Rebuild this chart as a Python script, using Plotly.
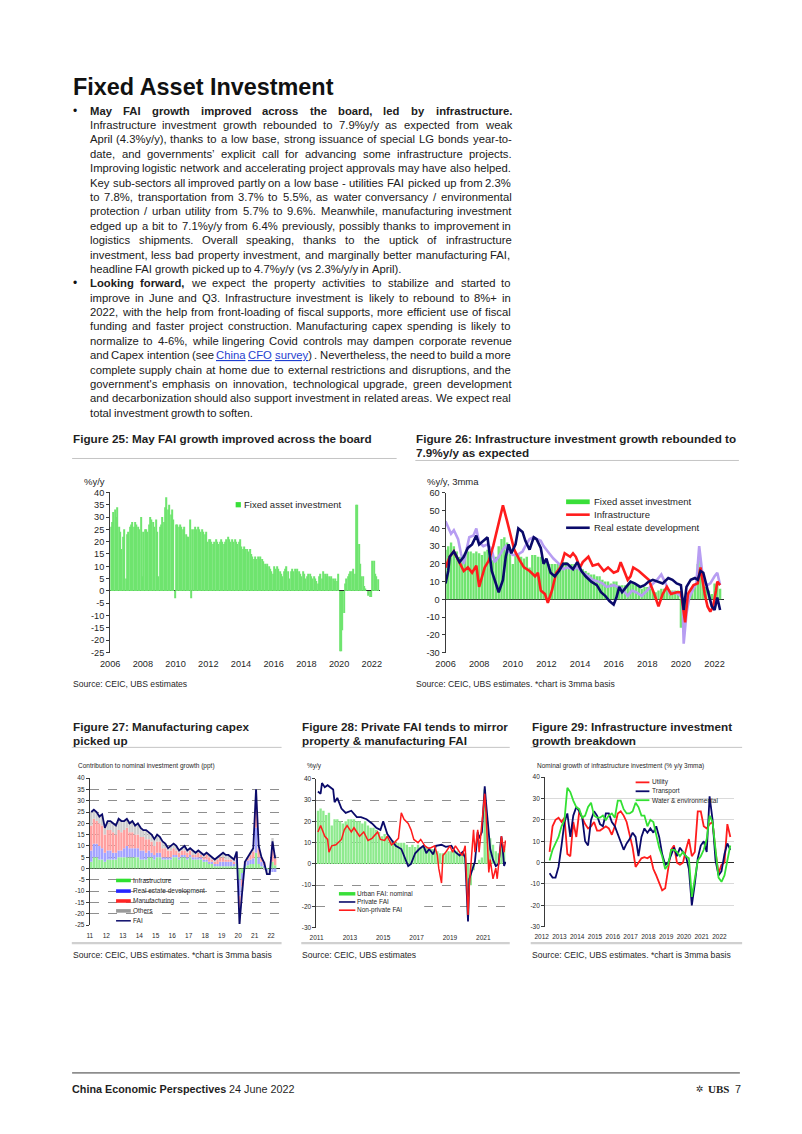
import plotly.graph_objects as go
import pandas as pd

# The page body keeps the browser's default 8px margin on every side, so the figure is made
# 16px smaller than the 802x1134 page and page coordinates are shifted by that margin.
OFF = 8
W, H = 802 - 2 * OFF, 1134 - 2 * OFF
def X(px): return (px - OFF) / W
def Y(py): return 1 - (py - OFF) / H

FONT = "Liberation Sans"
INK = "#1f1f1f"

# ====================== DATA ======================
# Figure 25: FAI %y/y, monthly, Jan-2006 .. May-2022
fai_yoy = [
    26, 28, 32, 33, 30, 34, 26, 24, 17, 22, 25, 5,        # 2006
    23, 24, 26, 27, 28, 26, 28, 27, 26, 25, 30, 6,        # 2007
    24, 25, 25, 24, 27, 30, 29, 28, 26, 29, 24, 6,        # 2008
    26, 27, 30, 28, 34, 38, 33, 35, 31, 33, 29, -3,       # 2009
    27, 27, 26, 27, 26, 25, 26, 23, 22, 22, 29, -3,       # 2010
    25, 25, 26, 25, 26, 25, 24, 25, 24, 23, 24, 20,       # 2011
    21, 21, 20, 19, 20, 21, 20, 19, 20, 21, 20, 19,       # 2012
    20, 21, 22, 21, 20, 21, 20, 21, 20, 19, 20, 21,       # 2013
    18, 17, 18, 17, 17, 16, 17, 15, 14, 13, 14, 13,       # 2014
    14, 13, 14, 13, 12, 11, 10, 11, 10, 9, 8, 7,          # 2015
    10, 9, 10, 9, 8, 7, 6, 8, 9, 10, 8, 5,                # 2016
    8, 9, 8, 9, 8, 9, 8, 7, 6, 8, 7, 5,                   # 2017
    6, 7, 7, 6, 5, 6, 5, 4, 3, 6, 7, 5,                   # 2018
    8, 7, 6, 7, 6, 5, 6, 5, 4, 5, 4, 7,                   # 2019
    -24.5, -24.5, -16, -9, 3, 5, 6, 7, 8, 8, 9, 7,        # 2020
    35, 35, 19, 11, 6, 6, 2, 1, 0, -2, -2.5, -2.5,        # 2021
    12.2, 12.2, 7, 6, 4.7,                                # 2022
]
fai_yoy_dates = pd.date_range("2006-01-01", periods=len(fai_yoy), freq="MS")

# Figure 26: 3mma %y/y
fai_3mma = [
    28, 30, 32, 30, 27, 24,  25, 26, 27, 27, 26, 27,  26, 25, 27, 28, 27, 22,
    24, 30, 34, 35, 32, 28,  20, 26, 25, 24, 23, 24,  18, 25, 25, 24, 24, 22,
    21, 20, 20, 20, 20, 20,  21, 21, 20, 20, 20, 19,  17, 17, 16, 15, 14, 14,
    13, 13, 11, 10, 10, 9,   10, 10, 8, 8, 8, 8,      9, 9, 8, 7, 6, 7,
    7, 6, 5, 4, 5, 6,        6, 6, 5, 5, 5, 5,        -16, -15, -6, 3, 6, 8,
    20, 22, 12, 7, 5, 3,     9, 8, 6,
]
fai_3mma_dates = pd.date_range("2006-01-01", periods=len(fai_3mma), freq="2MS")

infra_dates = ["2006-01", "2006-04", "2006-07", "2006-10", "2007-02", "2007-05", "2007-08", "2007-11",
               "2008-01", "2008-05", "2008-08", "2008-11", "2009-03", "2009-06", "2009-09", "2009-12",
               "2010-02", "2010-06", "2010-09", "2011-01", "2011-05", "2011-07", "2011-09", "2011-12",
               "2012-02", "2012-05", "2012-08", "2012-11", "2013-02", "2013-06", "2013-08", "2013-10",
               "2014-01", "2014-03", "2014-07", "2014-10", "2015-02", "2015-06", "2015-09", "2016-01",
               "2016-04", "2016-06", "2016-09", "2016-11", "2017-01", "2017-03", "2017-07", "2017-10",
               "2018-02", "2018-06", "2018-09", "2018-12", "2019-03", "2019-06", "2019-10", "2020-01",
               "2020-04", "2020-06", "2020-10", "2021-01", "2021-03", "2021-06", "2021-08", "2021-10",
               "2021-12", "2022-02", "2022-03", "2022-05"]
infra_3mma = [18, 24, 27, 22, 16, 18, 15, 19, 7, 18, 22, 30, 44, 53, 44, 35, 28, 22, 18, 16, 13, 15, 5, 3,
              -2, 5, 15, 18, 26, 24, 26, 24, 18, 21, 24, 19, 20, 16, 18, 15, 16, 21, 15, 11, 13, 18, 16, 14,
              11, 3, -4, 3, 7, 3, 4, 4, -13, 3, 8, 9, 18, 3, -4, -7, -4, 5, 10, 8]

re_dates = ["2006-01", "2006-03", "2006-04", "2006-07", "2006-09", "2006-11", "2007-02", "2007-05", "2007-08",
            "2007-11", "2008-01", "2008-04", "2008-07", "2008-10", "2009-01", "2009-03", "2009-06", "2009-08",
            "2009-10", "2009-12", "2010-03", "2010-05", "2010-08", "2010-10", "2011-01", "2011-04", "2011-06",
            "2011-09", "2011-11", "2012-01", "2012-04", "2012-07", "2012-10", "2013-01", "2013-04", "2013-08",
            "2013-11", "2014-02", "2014-05", "2014-09", "2015-01", "2015-04", "2015-07", "2015-10", "2016-01",
            "2016-03", "2016-05", "2016-07", "2016-10", "2017-01", "2017-04", "2017-08", "2017-11", "2018-02",
            "2018-05", "2018-09", "2018-12", "2019-04", "2019-07", "2019-10", "2020-01", "2020-03", "2020-05",
            "2020-08", "2020-11", "2021-01", "2021-03", "2021-05", "2021-07", "2021-09", "2021-11", "2022-01",
            "2022-03", "2022-05"]
re_3mma = [9, 16, 24, 27, 24, 21, 24, 29, 31, 36, 31, 33, 35, 16, 9, 4, 11, 24, 31, 26, 31, 40, 38, 33,
           28, 35, 34, 29, 20, 23, 15, 13, 16, 20, 20, 17, 21, 16, 13, 10, 8, 4, 2, -1, -3, 1, 7, 4, 7,
           10, 9, 7, 8, 10, 11, 10, 9, 12, 11, 9, 8, -6, 7, 11, 12, 11, 16, 15, 9, 2, -4, -6, 1, -6]

mfg_dates = ["2006-01", "2006-03", "2006-05", "2006-07", "2006-10", "2006-12", "2007-02", "2007-04", "2007-06",
             "2007-09", "2007-11", "2008-01", "2008-04", "2008-07", "2008-10", "2008-12", "2009-03", "2009-06",
             "2009-08", "2009-10", "2010-01", "2010-04", "2010-08", "2010-10", "2011-01", "2011-04", "2011-06",
             "2011-09", "2011-11", "2012-03", "2012-06", "2012-10", "2013-01", "2013-04", "2013-08", "2013-11",
             "2014-03", "2014-07", "2014-10", "2015-02", "2015-05", "2015-08", "2016-01", "2016-04", "2016-07",
             "2016-11", "2017-02", "2017-05", "2017-09", "2018-01", "2018-04", "2018-08", "2018-11", "2019-02",
             "2019-05", "2019-08", "2019-11", "2020-02", "2020-03", "2020-05", "2020-07", "2020-10", "2020-12",
             "2021-02", "2021-04", "2021-05", "2021-08", "2021-10", "2022-01", "2022-03", "2022-05"]
mfg_3mma = [44, 40, 37, 39, 34, 26, 20, 28, 35, 36, 40, 32, 30, 31, 28, 21, 24, 28, 30, 27, 25, 25, 27, 30,
            34, 35, 34, 33, 30, 26, 23, 20, 17, 18, 17, 18, 15, 13, 11, 10, 9, 7, 8, 7, 6, 2, 5, 4, 2,
            5, 8, 11, 14, 9, 3, 4, 3, 1, -25, -8, 1, 6, 9, 30, 16, 10, 8, 9, 13, 15, 8]

# Figure 27: contributions (ppt), every 2 months Feb-2011 .. Apr-2022
fai27 = [25, 26, 25, 23, 24, 18, 21, 21, 20, 19, 22, 21, 21, 22, 20, 21, 19, 20, 18, 17, 17, 16, 15, 13,
         15, 14, 12, 11, 9, 10, 11, 10, 8, 9, 10, 8, 9, 8, 7, 8, 7, 6, 7, 6, 5, 4, 5, 6,
         7, 6, 6, 5, 4, 7.5, -24.5, -10, 3, 5, 7, 9, 35, 10, 5, 2.5, -2.5, -2.5, 12, 4.5]
infra27 = [3, 5, 5, 4, 4, 3, 4, 4, 4, 4, 5, 5, 5, 5, 5, 5, 5, 5, 4, 4, 4, 5, 5, 4,
           5, 5, 4, 4, 4, 4, 5, 5, 4, 5, 5, 4, 5, 4, 4, 4, 4, 3, 3, 2, 2, 1, 1, 1,
           1, 1, 1, 1, 1, 2, -5, -2, 1, 1.5, 2, 2, 7, 2, 1, 0.5, -0.5, -1, 3, 1.5]
re27 = [5, 6, 6, 6, 5, 4, 4, 4, 3, 3, 3, 3, 4, 5, 4, 4, 4, 4, 4, 4, 3, 3, 2, 2,
        2, 2, 1, 1, 1, 1, 1, 1, 1, 1, 1, 1, 1, 1, 1, 1, 1, 1, 1, 1, 1, 1, 1, 2,
        2, 2, 2, 2, 1, 2, -7, -3, 1, 2, 2, 2.5, 11, 3, 2, 1, -0.5, -1, -1.5, -1.5]
mfg27 = [11, 11, 10, 10, 10, 8, 9, 9, 9, 8, 9, 8, 8, 8, 7, 7, 6, 6, 6, 6, 6, 5, 5, 4,
         5, 5, 4, 4, 3, 3, 3, 2, 2, 2, 2, 2, 2, 1, 1, 2, 1, 1, 2, 2, 1, 1, 2, 2,
         2, 1, 1, 1, 1, 1.5, -6, -3, 0.5, 1, 2, 3, 11, 4, 2, 1.5, 0, 0, 8, 3]
oth27 = [6, 4, 4, 3, 5, 3, 4, 4, 4, 4, 5, 5, 4, 4, 4, 5, 4, 5, 4, 3, 4, 3, 3, 3,
         3, 2, 3, 2, 1, 2, 2, 2, 1, 1, 2, 1, 1, 2, 1, 1, 1, 1, 1, 1, 1, 1, 1, 1,
         2, 2, 2, 1, 1, 2, -6.5, -2, 0.5, 0.5, 1, 1.5, 6, 1, 0, -0.5, -1.5, -0.5, 2.5, 1.5]
dates27 = pd.date_range("2011-02-01", periods=len(fai27), freq="2MS")

# Figure 28
urban28 = [25, 26, 25, 23, 24, 18, 21, 21, 20, 19, 20, 21, 21, 21, 20, 20, 19, 20, 18, 17, 17, 16, 15, 13,
           14, 13, 11, 11, 10, 10, 10, 10, 9, 8, 9, 8, 9, 8, 8, 8, 7, 7, 7, 6, 5, 5, 5, 6,
           6, 6, 6, 5, 5, 5, -24, -10, -3, 0, 2, 3, 35, 20, 12, 9, 6, 5, 12, 7]
dates28 = pd.date_range("2011-02-01", periods=len(urban28), freq="2MS")
priv_dates = ["2011-02", "2011-04", "2011-05", "2011-07", "2011-09", "2011-11", "2012-01", "2012-02", "2012-04",
              "2012-07", "2012-10", "2013-02", "2013-06", "2013-09", "2014-01", "2014-05", "2014-08", "2014-11",
              "2015-01", "2015-04", "2015-07", "2015-10", "2016-02", "2016-05", "2016-07", "2016-09", "2016-12",
              "2017-03", "2017-06", "2017-08", "2017-10", "2018-01", "2018-03", "2018-07", "2018-10", "2019-02",
              "2019-05", "2019-08", "2019-10", "2019-12", "2020-02", "2020-03", "2020-06", "2020-07", "2020-09",
              "2020-10", "2020-12", "2021-02", "2021-03", "2021-05", "2021-06", "2021-08", "2021-10", "2021-12",
              "2022-02", "2022-03", "2022-04", "2022-05"]
priv_fai = [34, 33, 38, 36, 37, 36, 35, 29, 31, 26, 24, 25, 22, 22, 21, 19, 17, 16, 20, 14, 11, 8.5, 7, 2,
            -1, 0, 5, 7, 8.5, 5, 7, 4.5, 8.5, 9, 8, 8.5, 5.5, 4, 5.5, 3, -27, -7, 0, 1, 15, 12, 15,
            36.5, 29, 13, 7, 2, -1, 0, 13, 7, -1, 1]
np_dates = ["2011-02", "2011-04", "2011-07", "2011-09", "2011-10", "2011-12", "2012-03", "2012-07", "2012-09",
            "2012-11", "2013-02", "2013-04", "2013-08", "2013-11", "2014-02", "2014-05", "2014-09", "2014-11",
            "2015-02", "2015-04", "2015-07", "2015-09", "2015-12", "2016-02", "2016-04", "2016-07", "2016-09",
            "2016-11", "2017-02", "2017-04", "2017-07", "2017-09", "2017-11", "2018-02", "2018-04", "2018-05",
            "2018-07", "2018-08", "2018-10", "2019-01", "2019-03", "2019-05", "2019-08", "2019-10", "2019-12",
            "2020-02", "2020-03", "2020-05", "2020-06", "2020-07", "2020-09", "2020-10", "2020-11", "2021-02",
            "2021-03", "2021-04", "2021-05", "2021-06", "2021-08", "2021-10", "2021-11", "2022-02", "2022-03",
            "2022-04", "2022-05"]
nonpriv_fai = [15, 18, 13, 11.5, 5.5, 8.5, 9, 11.5, 16, 18, 15, 17, 13, 15, 11, 12, 15, 11.5, 11, 13, 9, 10,
               12, 24, 21, 19, 16, 11.5, 10, 11.5, 8.5, 7.5, 7.5, 8.5, 4, -2, -9, 4, 5.5, 8.5, 5.5, 8.5,
               5.5, 4, 8.5, -24, -10, 5.5, 16, 5.5, 16, 5.5, 13, 33, 24, 5.5, -4, 2, -7, -2, -7, 13, 10,
               5.5, 11]

# Figure 29: every 2 months Mar-2012 .. May-2022
utility29 = [5, 17, 20, 21, 19, 21, 4, 3, 19, 12, 24, 21, 18, 16, 17, 19, 15, 15, 16, 17, 16, 13, 17, 23,
             24, 22, 19, 13, 7, -2, 0, 2, 2.5, 2, 3, -3, -6, -10, -13, -12, -3, 6, 8, 0, -1, 0, 6, 11,
             3, 5, 24, 24, 17, 16, 18, 19, 5, -5, -1, 0, 18, 12]
transport29 = [-5, -7, -7, -2, 8, 19, 23, 12, 22, 26, 24, 21, 10, 8, 20, 24, 22, 18, 17, 23, 23, 19, 17, 13,
               9, 6, 9, 11, 14, 12, 3, 12, 16, 14, 16, 14, 17, 12, 4, -1, 0, 4, 7, 3, 7, 5, 3, -3,
               -20, -10, 2, 8, 10, 5, 31, 20, 1, -6, -4, 4, 9, 6]
water29 = [1, 6, 9, 12, 17, 20, 35, 33, 29, 26, 25, 21, 22, 26, 28, 22, 21, 21, 22, 20, 22, 23, 21, 29,
           29, 25, 23, 23, 24, 28, 26, 22, 22, 17, 20, 19, 13, 7, 3, -3, -1, 6, 6, 5, 3, 5, 3, 2,
           -16, -7, 1, 3, 6, 11, 22, 19, 5, -7, -9, -6, 1, 8]
dates29 = pd.date_range("2012-03-01", periods=len(utility29), freq="2MS")

# Y tick values (labels printed with a plain hyphen, as in the reference)
yticks_25 = [40, 35, 30, 25, 20, 15, 10, 5, 0, -5, -10, -15, -20, -25]
yticks_26 = [60, 50, 40, 30, 20, 10, 0, -10, -20, -30]
yticks_27 = [40, 35, 30, 25, 20, 15, 10, 5, 0, -5, -10, -15, -20, -25]
yticks_28 = [40, 30, 20, 10, 0, -10, -20, -30]
yticks_29 = [40, 30, 20, 10, 0, -10, -20, -30]

# ====================== STYLE ======================
G_BAR = "#6fe46f"
G_SW = "#39df39"
RED = "#ff1c1c"
NAVY = "#0a0a6a"
LAV = "#b79df2"
GRIDC = "#8f8f8f"

fig = go.Figure()
# Fig 25
fig.add_trace(go.Bar(x=fai_yoy_dates, y=fai_yoy, xperiod="M1", xperiodalignment="middle",
                     marker=dict(color=G_BAR, line=dict(width=0)), xaxis="x", yaxis="y",
                     name="Fixed asset investment"))
# Fig 26
fig.add_trace(go.Bar(x=fai_3mma_dates, y=fai_3mma, marker=dict(color=G_BAR, line=dict(width=0)),
                     xaxis="x2", yaxis="y2", name="Fixed asset investment"))
fig.add_trace(go.Scatter(x=mfg_dates, y=mfg_3mma, mode="lines", line=dict(color=LAV, width=2.6),
                         xaxis="x2", yaxis="y2", name="Manufacturing"))
fig.add_trace(go.Scatter(x=infra_dates, y=infra_3mma, mode="lines", line=dict(color=RED, width=2.6),
                         xaxis="x2", yaxis="y2", name="Infrastructure"))
fig.add_trace(go.Scatter(x=re_dates, y=re_3mma, mode="lines", line=dict(color=NAVY, width=2.6),
                         xaxis="x2", yaxis="y2", name="Real estate development"))
# Fig 27
for vals, col, nm in [(infra27, "#93ec93", "Infrastructure"), (re27, "#a3a3ff", "Real estate development"),
                      (mfg27, "#ffa0a0", "Manufacturing"), (oth27, "#cdcdcd", "Others")]:
    fig.add_trace(go.Bar(x=dates27, y=vals, marker=dict(color=col, line=dict(width=0)),
                         xaxis="x3", yaxis="y3", name=nm))
fig.add_trace(go.Scatter(x=dates27, y=fai27, mode="lines", line=dict(color=NAVY, width=1.8),
                         xaxis="x3", yaxis="y3", name="FAI"))
# Fig 28
fig.add_trace(go.Bar(x=dates28, y=urban28, marker=dict(color="#8eea8e", line=dict(width=0)),
                     xaxis="x4", yaxis="y4", name="Urban FAI: nominal"))
fig.add_trace(go.Scatter(x=priv_dates, y=priv_fai, mode="lines", line=dict(color=NAVY, width=1.8),
                         xaxis="x4", yaxis="y4", name="Private FAI"))
fig.add_trace(go.Scatter(x=np_dates, y=nonpriv_fai, mode="lines", line=dict(color=RED, width=1.5),
                         xaxis="x4", yaxis="y4", name="Non-private FAI"))
# Fig 29
fig.add_trace(go.Scatter(x=dates29, y=utility29, mode="lines", line=dict(color=RED, width=1.8),
                         xaxis="x5", yaxis="y5", name="Utility"))
fig.add_trace(go.Scatter(x=dates29, y=transport29, mode="lines", line=dict(color=NAVY, width=1.8),
                         xaxis="x5", yaxis="y5", name="Transport"))
fig.add_trace(go.Scatter(x=dates29, y=water29, mode="lines", line=dict(color="#33e033", width=1.8),
                         xaxis="x5", yaxis="y5", name="Water & environmental"))


def xax(px0, px1, rng, dtick, tick0, fmt, fs, anchor, **kw):
    d = dict(domain=[X(px0), X(px1)], range=rng, type="date", dtick=dtick, tick0=tick0, tickformat=fmt,
             tickfont=dict(family=FONT, size=fs, color=INK), showgrid=False, zeroline=False,
             showline=False, ticks="", anchor=anchor, fixedrange=True)
    d.update(kw)
    return d


def yax(top, bot, rng, ticks, fs, anchor, grid=None, **kw):
    d = dict(domain=[Y(bot), Y(top)], range=rng, tickmode="array", tickvals=ticks,
             ticktext=[str(v) for v in ticks],
             tickfont=dict(family=FONT, size=fs, color=INK), showline=True, linecolor="#3a3a3a",
             linewidth=1, ticks="outside", ticklen=3, tickcolor="#3a3a3a", zeroline=True,
             zerolinecolor="#2a2a2a", zerolinewidth=1, showgrid=False, anchor=anchor, fixedrange=True)
    if grid == "dash":
        d.update(showgrid=True, gridcolor=GRIDC, gridwidth=0.8, griddash="dash")
    elif grid == "solid":
        d.update(showgrid=True, gridcolor="#dadada", gridwidth=0.8)
    d.update(kw)
    return d


layout = dict(
    width=W, height=H, margin=dict(l=0, r=0, t=0, b=0), autosize=False,
    paper_bgcolor="white", plot_bgcolor="white", showlegend=False,
    barmode="relative", bargap=0.12, font=dict(family=FONT, color=INK),
    xaxis=xax(100.7, 375, ["2006-01-01", "2022-07-01"], "M24", "2006-01-01", "%Y", 9.2, "y",
              ticklabelstandoff=4),
    yaxis=yax(491.7, 653.3, [-25, 40], yticks_25, 9.2, "x"),
    xaxis2=xax(441.7, 724.4, ["2006-01-01", "2022-07-15"], "M24", "2006-01-01", "%Y", 9.2, "y2",
               ticklabelstandoff=4),
    yaxis2=yax(492.3, 653.3, [-30, 60], yticks_26, 9.2, "x2"),
    xaxis3=xax(80, 273.3, ["2011-01-01", "2022-07-15"], "M12", "2011-01-01", "%y", 6.5, "y3",
               ticklabelstandoff=5),
    yaxis3=yax(780, 928.3, [-25, 40], yticks_27, 6.5, "x3", grid="dash"),
    xaxis4=xax(310.5, 503.3, ["2011-01-01", "2022-05-15"], "M24", "2011-01-01", "%Y", 6.5, "y4",
               ticklabelstandoff=5),
    yaxis4=yax(780.7, 931, [-30, 40], yticks_28, 6.5, "x4", grid="dash"),
    xaxis5=xax(543, 735, ["2011-12-01", "2022-07-15"], "M12", "2012-01-01", "%Y", 6.5, "y5",
               ticklabelshift=-5, ticklabelstandoff=5),
    yaxis5=yax(779, 930, [-30, 40], yticks_29, 6.5, "x5", grid="solid"),
)

anns = []
shapes = []


def txt(x, y, s, size, bold=False, color=INK, anchor="left", family=FONT):
    anns.append(dict(x=X(x), y=Y(y), xref="paper", yref="paper", text=(f"<b>{s}</b>" if bold else s),
                     showarrow=False, xanchor=anchor, yanchor="middle", borderpad=0,
                     font=dict(family=family, size=size, color=color)))


def hline(x0, x1, y, color, width):
    shapes.append(dict(type="line", xref="paper", yref="paper", x0=X(x0), x1=X(x1), y0=Y(y), y1=Y(y),
                       line=dict(color=color, width=width)))


def rect(x0, x1, y0, y1, color):
    shapes.append(dict(type="rect", xref="paper", yref="paper", x0=X(x0), x1=X(x1), y0=Y(y1), y1=Y(y0),
                       fillcolor=color, line=dict(width=0)))


# ---------- page title and body text ----------
txt(61.5, 83, "Fixed Asset Investment", 23.4, bold=True, color="#111111")

AR = {' ': 278, '%': 889, '&': 667, "'": 191, '(': 333, ')': 333, '*': 389, '+': 584, ',': 278, '-': 333,
      '.': 278, '/': 278, ':': 278, ';': 278, '’': 222}
AR.update({d: 556 for d in "0123456789"})
AR.update(dict(zip("ABCDEFGHIJKLMNOPQRSTUVWXYZ",
                   [667, 667, 722, 722, 667, 611, 778, 722, 278, 500, 667, 556, 833, 722, 778, 667, 778, 722,
                    667, 611, 722, 667, 944, 667, 667, 611])))
AR.update(dict(zip("abcdefghijklmnopqrstuvwxyz",
                   [556, 556, 500, 556, 556, 278, 556, 556, 222, 222, 500, 222, 833, 556, 556, 556, 556, 333,
                    500, 278, 556, 500, 722, 500, 500, 500])))
ARB = dict(AR)
ARB.update({':': 333, '’': 278, "'": 238})
ARB.update(dict(zip("ABCDEFGHIJKLMNOPQRSTUVWXYZ",
                    [722, 722, 722, 722, 667, 611, 778, 722, 278, 556, 722, 611, 833, 722, 778, 667, 778, 722,
                     667, 611, 722, 667, 944, 667, 667, 611])))
ARB.update(dict(zip("abcdefghijklmnopqrstuvwxyz",
                    [556, 611, 556, 611, 556, 333, 611, 611, 278, 278, 556, 278, 889, 611, 611, 611, 611, 389,
                     556, 333, 611, 556, 778, 556, 556, 500])))

BODY_LINES = [
    ("May FAI growth improved across the board, led by infrastructure.", 99, True),
    ("Infrastructure investment growth rebounded to 7.9%y/y as expected from weak", 0, True),
    ("April (4.3%y/y), thanks to a low base, strong issuance of special LG bonds year-to-", 0, True),
    ("date, and governments’ explicit call for advancing some infrastructure projects.", 0, True),
    ("Improving logistic network and accelerating project approvals may have also helped.", 0, True),
    ("Key sub-sectors all improved partly on a low base - utilities FAI picked up from 2.3%", 0, True),
    ("to 7.8%, transportation from 3.7% to 5.5%, as water conversancy / environmental", 0, True),
    ("protection / urban utility from 5.7% to 9.6%. Meanwhile, manufacturing investment", 0, True),
    ("edged up a bit to 7.1%y/y from 6.4% previously, possibly thanks to improvement in", 0, True),
    ("logistics shipments. Overall speaking, thanks to the uptick of infrastructure", 0, True),
    ("investment, less bad property investment, and marginally better manufacturing FAI,", 0, True),
    ("headline FAI growth picked up to 4.7%y/y (vs 2.3%/y/y in April).", 0, False),
    ("Looking forward, we expect the property activities to stabilize and started to", 2, True),
    ("improve in June and Q3. Infrastructure investment is likely to rebound to 8%+ in", 0, True),
    ("2022, with the help from front-loading of fiscal supports, more efficient use of fiscal", 0, True),
    ("funding and faster project construction. Manufacturing capex spending is likely to", 0, True),
    ("normalize to 4-6%, while lingering Covid controls may dampen corporate revenue", 0, True),
    ("and Capex intention (see China CFO survey) . Nevertheless, the need to build a more", 0, True),
    ("complete supply chain at home due to external restrictions and disruptions, and the", 0, True),
    ("government's emphasis on innovation, technological upgrade, green development", 0, True),
    ("and decarbonization should also support investment in related areas. We expect real", 0, True),
    ("total investment growth to soften.", 0, False),
]
LINK_WORDS = {"China": "China", "CFO": "CFO", "survey)": "survey"}
TL, TR = 79.0, 507.0
LINE0, LEAD = 106.5, 14.52


def em(word, bold):
    t = ARB if bold else AR
    return sum(t.get(c, 556) for c in word) / 1000.0


ems = []
for text, nb, just in BODY_LINES:
    ws = text.split(" ")
    e = sum(em(w, i < nb) for i, w in enumerate(ws)) + 0.278 * (len(ws) - 1)
    if just:
        ems.append(e)
BFS = min(11.4, (TR - TL) / max(ems))

for li, (text, nb, just) in enumerate(BODY_LINES):
    y = LINE0 + LEAD * li
    ws = text.split(" ")
    widths = [em(w, i < nb) * BFS for i, w in enumerate(ws)]
    gap = (TR - TL - sum(widths)) / (len(ws) - 1) if just else 0.278 * BFS
    x = TL
    for i, w in enumerate(ws):
        if i < nb:
            s = f"<b>{w}</b>"
        elif li == 17 and w in LINK_WORDS:
            core = LINK_WORDS[w]
            s = f'<span style="color:#1f3fd0;text-decoration:underline">{core}</span>' + w[len(core):]
        else:
            s = w
        txt(x, y, s, BFS, color="#202020")
        x += widths[i] + gap

for li in (0, 12):
    txt(64.5, LINE0 + LEAD * li, "•", 12, anchor="center", color="#111111")

# ---------- figure titles / separators / sources ----------
TFS = 11.7
txt(62, 437, "Figure 25: May FAI growth improved across the board", TFS, bold=True)
txt(411, 437, "Figure 26: Infrastructure investment growth rebounded to", TFS, bold=True)
txt(411, 451, "7.9%y/y as expected", TFS, bold=True)
hline(62, 392, 457.5, "#c4c4c4", 1)
hline(411, 740, 459.5, "#c4c4c4", 1)
SFS = 8.6
txt(62, 685, "Source: CEIC, UBS estimates", SFS)
txt(411, 685, "Source: CEIC, UBS estimates. *chart is 3mma basis", SFS)

txt(61.7, 728.3, "Figure 27: Manufacturing capex", TFS, bold=True)
txt(61.7, 741.7, "picked up", TFS, bold=True)
txt(295, 728.3, "Figure 28: Private FAI tends to mirror", TFS, bold=True)
txt(295, 741.7, "property & manufacturing FAI", TFS, bold=True)
txt(528.3, 728.3, "Figure 29: Infrastructure investment", TFS, bold=True)
txt(528.3, 741.7, "growth breakdown", TFS, bold=True)
hline(61.7, 275, 749, "#c4c4c4", 1)
hline(295, 507, 749, "#c4c4c4", 1)
hline(528.3, 743.3, 749, "#c4c4c4", 1)
hline(61.7, 275, 946.5, "#d0d0d0", 2.2)
hline(295, 507, 946.5, "#d0d0d0", 2.2)
hline(528.3, 743.3, 946.5, "#d0d0d0", 2.2)
txt(61.7, 958, "Source: CEIC, UBS estimates. *chart is 3mma basis", SFS)
txt(295, 958, "Source: CEIC, UBS estimates", SFS)
txt(528.3, 958, "Source: CEIC, UBS estimates. *chart is 3mma basis", SFS)

# ---------- axis captions ----------
txt(72.7, 481, "%y/y", 9.5)
txt(421.7, 481, "%y/y, 3mma", 9.5)
txt(66.7, 768.3, "Contribution to nominal investment growth (ppt)", 6.5)
txt(300, 768.3, "%y/y", 6.5)
txt(533.3, 768.3, "Nominal growth of infrastructure investment (% y/y 3mma)", 6.5)

# ---------- legends ----------
# Fig 25
rect(228.3, 233.6, 501.5, 506.8, G_SW)
txt(235.7, 504, "Fixed asset investment", 9.5)
# Fig 26
rect(564.3, 588.3, 498.8, 503.6, G_SW)
hline(564.3, 588.3, 514.2, RED, 2.6)
hline(564.3, 588.3, 527.4, NAVY, 2.6)
txt(591.7, 501, "Fixed asset investment", 9.5)
txt(591.7, 514.2, "Infrastructure", 9.5)
txt(591.7, 527.4, "Real estate development", 9.5)
# Fig 27
L27 = [("Infrastructure", "#2fe02f", 883.3), ("Real estate development", "#2626ff", 894),
       ("Manufacturing", "#ff2424", 904), ("Others", "#9a9a9a", 914)]
for lab, col, yy in L27:
    rect(106.7, 121.7, yy - 1.8, yy + 1.8, col)
    txt(123.3, yy, lab, 6.5)
hline(106.7, 121.7, 924, NAVY, 1.5)
txt(123.3, 924, "FAI", 6.5)
# Fig 28
rect(323, 420, 891.5, 918.5, "white")
rect(333.3, 350, 895, 898.5, G_SW)
hline(333.3, 350, 905, NAVY, 1.6)
hline(333.3, 350, 913.3, RED, 1.6)
txt(351, 896.7, "Urban FAI: nominal", 6.5)
txt(351, 905, "Private FAI", 6.5)
txt(351, 913.3, "Non-private FAI", 6.5)
# Fig 29
hline(635, 649, 784.3, RED, 1.8)
hline(635, 649, 793.3, NAVY, 1.8)
hline(635, 649, 802.3, "#33e033", 1.8)
txt(650.5, 784.3, "Utility", 6.5)
txt(650.5, 793.3, "Transport", 6.5)
txt(650.5, 802.3, "Water & environmental", 6.5)

# ---------- footer ----------
hline(62, 741, 1077.5, "#3a3a3a", 1)
txt(61, 1094, "China Economic Perspectives", 10.8, bold=True)
txt(221, 1094, "24 June 2022", 10.8)
txt(706, 1094, "✲", 9, anchor="right", family="DejaVu Sans")
txt(731, 1094, "UBS", 11, bold=True, anchor="right", family="Liberation Serif")
txt(735.5, 1094, "7", 10.8)

layout["annotations"] = anns
layout["shapes"] = shapes
fig.update_layout(**layout)

fig.write_html("out.html", config={"displayModeBar": False})
